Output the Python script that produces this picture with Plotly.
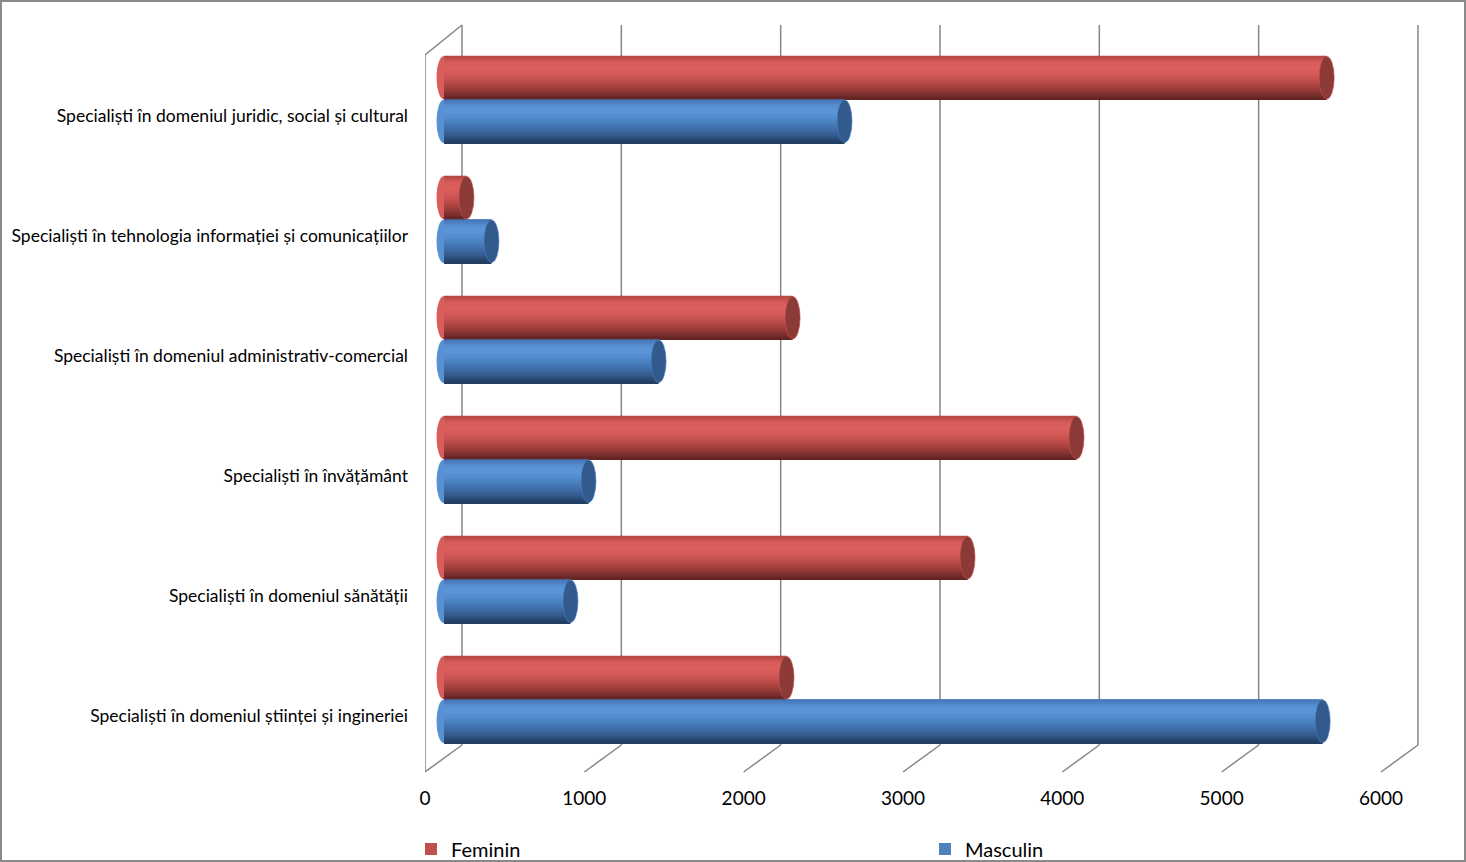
import plotly.graph_objects as go

# ---------------- data ----------------
categories = [
    "Specialiști în domeniul științei și ingineriei",
    "Specialiști în domeniul sănătății",
    "Specialiști în învățământ",
    "Specialiști în domeniul administrativ-comercial",
    "Specialiști în tehnologia informației și comunicațiilor",
    "Specialiști în domeniul juridic, social și cultural",
]
feminin = [2150, 3286, 3970, 2188, 141, 5540]
masculin = [5515, 794, 907, 1347, 298, 2514]
x_ticks = [0, 1000, 2000, 3000, 4000, 5000, 6000]

# ---------------- geometry / style ----------------
W, H = 1466, 862
ML, MR, MT, MB = 425, 47, 25, 90
PW = W - ML - MR          # plot width px
PH = H - MT - MB          # plot height px
K = 0.15933               # px per unit
SPAN = PW / K
MID_OFF = 19              # px: bar plane offset from front plane
BACK_OFF = 37             # px: back plane offset from front plane
DEPTH_Y = 27              # px: vertical depth of floor
ROW = 120                 # px per category
Y0_PX = 699.5             # pixel y of category index 0

x_rng = [-MID_OFF / K, SPAN - MID_OFF / K]
x2_rng = [0, SPAN]
y_rng = [(Y0_PX - (MT + PH)) / ROW, (Y0_PX - MT) / ROW]
BW = 0.363                # bar thickness in category units
LABEL_SHIFT = 16 / ROW

FONT = "Lato, 'Open Sans', sans-serif"
GRID = "#868686"

# colour stops (top -> bottom of the cylinder)
red_stops = ["#b34845", "#d75c59", "#dc605d", "#d35956", "#c24f4c", "#a8423f", "#8a3533", "#622523"]
blue_stops = ["#4576b7", "#5890d3", "#5c95d8", "#5189ca", "#477cbb", "#3d6ba5", "#315787", "#223f62"]
cap_red = "#8b3a37"
cap_blue = "#325a8d"
NB = 28


def _hex(c):
    return [int(c[i:i + 2], 16) for i in (1, 3, 5)]


def profile(stops, n):
    out = []
    for j in range(n):
        t = j / (n - 1) * (len(stops) - 1)
        a = min(int(t), len(stops) - 2)
        f = t - a
        c1, c2 = _hex(stops[a]), _hex(stops[a + 1])
        rgb = [round(c1[k] + (c2[k] - c1[k]) * f) for k in range(3)]
        out.append("rgb(%d,%d,%d)" % tuple(rgb))
    return out


ypos = list(range(len(categories)))

fig = go.Figure()

series = [
    ("Feminin", feminin, "#c0504d", profile(red_stops, NB), cap_red, 0.0, "legend"),
    ("Masculin", masculin, "#4f81bd", profile(blue_stops, NB), cap_blue, -BW, "legend2"),
]

for name, vals, col, prof, capc, off, leg in series:
    fig.add_trace(go.Bar(
        x=vals, y=ypos, orientation="h", name=name, legend=leg,
        marker=dict(color=col, line=dict(width=0)),
        offset=off, width=BW, showlegend=True,
        hovertemplate="%{x}<extra>" + name + "</extra>",
    ))
for name, vals, col, prof, capc, off, leg in series:
    n = len(prof)
    bw = BW / n
    for j, c in enumerate(prof):
        o = off + BW - (j + 1) * bw
        fig.add_trace(go.Bar(
            x=vals, y=ypos, orientation="h", name=name,
            marker=dict(color=c, line=dict(width=0)),
            offset=o, width=bw * 1.15, showlegend=False, hoverinfo="skip",
        ))

fig.add_trace(go.Scatter(x=[None], y=[None], xaxis="x2", yaxis="y",
                         showlegend=False, hoverinfo="skip", mode="markers"))

shapes = []
dy_paper = DEPTH_Y / PH
front_top = (MT + PH - 55) / PH
for v in x_ticks:
    shapes.append(dict(type="line", xref="x2", xsizemode="pixel", xanchor=v,
                       x0=BACK_OFF, x1=BACK_OFF, yref="paper", y0=dy_paper, y1=1,
                       line=dict(color=GRID, width=1.5), layer="below"))
    shapes.append(dict(type="line", xref="x2", xsizemode="pixel", xanchor=v,
                       x0=0, x1=BACK_OFF, yref="paper", y0=0, y1=dy_paper,
                       line=dict(color=GRID, width=1.5), layer="below"))
shapes.append(dict(type="line", xref="x2", xsizemode="pixel", xanchor=0,
                   x0=0, x1=0, yref="paper", y0=0, y1=front_top,
                   line=dict(color=GRID, width=1.5), layer="below"))
shapes.append(dict(type="line", xref="x2", xsizemode="pixel", xanchor=0,
                   x0=0, x1=BACK_OFF, yref="paper", y0=front_top, y1=1,
                   line=dict(color=GRID, width=1.5), layer="below"))

for name, vals, col, prof, capc, off, leg in series:
    for i, v in enumerate(vals):
        shapes.append(dict(type="circle", xref="x", xsizemode="pixel", xanchor=0,
                           x0=-7.5, x1=7.5, yref="y", y0=i + off, y1=i + off + BW,
                           fillcolor=prof[len(prof) // 3], line=dict(width=0), layer="below"))
        shapes.append(dict(type="circle", xref="x", xsizemode="pixel", xanchor=v,
                           x0=-7.5, x1=7.5, yref="y", y0=i + off + 0.004, y1=i + off + BW - 0.004,
                           fillcolor=capc, line=dict(color=prof[len(prof) // 2], width=0.6),
                           layer="above"))

shapes.append(dict(type="rect", xref="paper", yref="paper",
                   x0=(1 - ML) / PW, x1=(W - 1 - ML) / PW,
                   y0=(MT + PH - (H - 1)) / PH, y1=(MT + PH - 1) / PH,
                   line=dict(color="#8a8a8a", width=2), fillcolor="rgba(0,0,0,0)", layer="below"))

leg_common = dict(orientation="h", xanchor="left", yanchor="middle",
                  y=-(849 - (MT + PH)) / PH, itemwidth=30,
                  font=dict(size=20, family=FONT), bgcolor="rgba(0,0,0,0)")

fig.update_layout(
    width=W, height=H,
    margin=dict(l=ML, r=MR, t=MT, b=MB, pad=0, autoexpand=False),
    paper_bgcolor="white", plot_bgcolor="white",
    barmode="overlay",
    font=dict(family=FONT, color="#000000"),
    shapes=shapes,
    xaxis=dict(range=x_rng, showgrid=False, zeroline=False, showticklabels=False,
               showline=False, ticks="", fixedrange=True, automargin=False),
    xaxis2=dict(range=x2_rng, overlaying="x", side="bottom", anchor="y",
                tickvals=x_ticks, ticktext=[str(t) for t in x_ticks],
                showgrid=False, zeroline=False, showline=False, ticks="", automargin=False,
                ticklabelstandoff=13, tickfont=dict(size=19, family=FONT)),
    yaxis=dict(range=y_rng, tickvals=[p - LABEL_SHIFT for p in ypos], ticktext=categories,
               showgrid=False, zeroline=False, showline=False, ticks="", automargin=False,
               ticklabelstandoff=16, tickfont=dict(size=17.5, family=FONT)),
    legend=dict(x=(411 - ML) / PW, **leg_common),
    legend2=dict(x=(925 - ML) / PW, **leg_common),
    showlegend=True,
)

fig.write_html("out.html", post_script="document.body.style.margin='0px';",
               config={"displayModeBar": False})
